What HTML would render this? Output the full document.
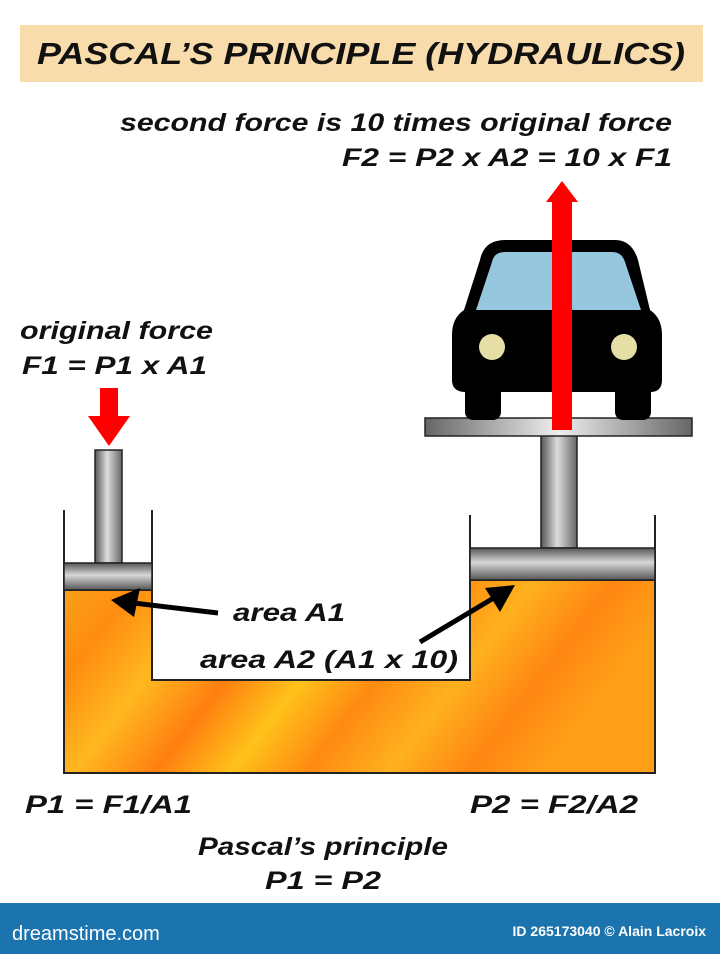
<!DOCTYPE html>
<html><head><meta charset="utf-8"><style>
html,body{margin:0;padding:0;background:#fff;}
svg{display:block}
text{font-family:"Liberation Sans Narrow","Liberation Sans",sans-serif;font-weight:bold;font-style:italic;fill:#111}
</style></head><body>
<svg width="720" height="954" viewBox="0 0 720 954" xmlns="http://www.w3.org/2000/svg">
<defs>
<linearGradient id="oil" x1="0" y1="0" x2="1" y2="0.25">
<stop offset="0" stop-color="#f7a21a"/><stop offset="0.12" stop-color="#ff8c10"/>
<stop offset="0.25" stop-color="#ffb820"/><stop offset="0.38" stop-color="#ff7f10"/>
<stop offset="0.5" stop-color="#ffc21a"/><stop offset="0.62" stop-color="#ff8a12"/>
<stop offset="0.75" stop-color="#ffb11e"/><stop offset="0.88" stop-color="#ff8612"/>
<stop offset="1" stop-color="#ffa018"/></linearGradient>
<linearGradient id="metV" x1="0" y1="0" x2="1" y2="0">
<stop offset="0" stop-color="#555"/><stop offset="0.45" stop-color="#ddd"/><stop offset="1" stop-color="#666"/></linearGradient>
<linearGradient id="metH" x1="0" y1="0" x2="0" y2="1">
<stop offset="0" stop-color="#555"/><stop offset="0.45" stop-color="#d8d8d8"/><stop offset="1" stop-color="#555"/></linearGradient>
<linearGradient id="plat" x1="0" y1="0" x2="1" y2="0">
<stop offset="0" stop-color="#666"/><stop offset="0.5" stop-color="#eee"/><stop offset="1" stop-color="#666"/></linearGradient>
</defs>
<rect x="20" y="25" width="683" height="57" fill="#f9dcab"/>
<text x="361" y="64" font-size="31" text-anchor="middle" textLength="648" lengthAdjust="spacingAndGlyphs">PASCAL’S PRINCIPLE (HYDRAULICS)</text>
<text x="672" y="131" font-size="25" text-anchor="end" textLength="552" lengthAdjust="spacingAndGlyphs">second force is 10 times original force</text>
<text x="672" y="166" font-size="25" text-anchor="end" textLength="330" lengthAdjust="spacingAndGlyphs">F2 = P2 x A2 = 10 x F1</text>
<text x="20" y="339" font-size="25" textLength="193" lengthAdjust="spacingAndGlyphs">original force</text>
<text x="22" y="374" font-size="25" textLength="185" lengthAdjust="spacingAndGlyphs">F1 = P1 x A1</text>
<!-- fluid -->
<path d="M64 590 H152 V680 H470 V580 H655 V773 H64 Z" fill="url(#oil)" stroke="#222" stroke-width="2"/>
<!-- walls -->
<path d="M64 510 V773 M152 510 V680 M470 515 V680 M655 515 V773" stroke="#222" stroke-width="2" fill="none"/>
<!-- left piston -->
<rect x="95" y="450" width="27" height="113" fill="url(#metV)" stroke="#222" stroke-width="1.5"/>
<rect x="64" y="563" width="88" height="27" fill="url(#metH)" stroke="#222" stroke-width="1.5"/>
<!-- right piston -->
<rect x="541" y="432" width="36" height="116" fill="url(#metV)" stroke="#222" stroke-width="1.5"/>
<rect x="470" y="548" width="185" height="32" fill="url(#metH)" stroke="#222" stroke-width="1.5"/>
<rect x="425" y="418" width="267" height="18" fill="url(#plat)" stroke="#222" stroke-width="1.5"/>
<!-- car -->
<rect x="465" y="380" width="36" height="40" rx="8" fill="#000"/>
<rect x="615" y="380" width="36" height="40" rx="8" fill="#000"/>
<path d="M480 260 Q484 240 505 240 H615 Q632 240 638 260 L650 310 Q662 318 662 335 V380 Q662 392 650 392 H466 Q452 392 452 380 V335 Q452 318 464 310 Z" fill="#000"/>
<path d="M492 262 Q494 252 505 252 H612 Q622 252 625 262 L641 310 H476 Z" fill="#97c6df"/>
<circle cx="492" cy="347" r="13" fill="#e6dfa5"/>
<circle cx="624" cy="347" r="13" fill="#e6dfa5"/>
<!-- red arrows -->
<rect x="552" y="200" width="20" height="230" fill="#f00"/>
<polygon points="546,202 562,181 578,202" fill="#f00"/>
<rect x="100" y="388" width="18" height="30" fill="#f00"/>
<polygon points="88,416 130,416 109,446" fill="#f00"/>
<!-- black arrows -->
<line x1="218" y1="613" x2="125" y2="602" stroke="#000" stroke-width="5"/>
<polygon points="111,600 140,588 134,617" fill="#000"/>
<line x1="420" y1="642" x2="497" y2="596" stroke="#000" stroke-width="5"/>
<polygon points="515,585 485,588 500,612" fill="#000"/>
<text x="233" y="621" font-size="25" textLength="112" lengthAdjust="spacingAndGlyphs">area A1</text>
<text x="200" y="668" font-size="25" textLength="258" lengthAdjust="spacingAndGlyphs">area A2 (A1 x 10)</text>
<text x="25" y="813" font-size="25" textLength="167" lengthAdjust="spacingAndGlyphs">P1 = F1/A1</text>
<text x="470" y="813" font-size="25" textLength="168" lengthAdjust="spacingAndGlyphs">P2 = F2/A2</text>
<text x="323" y="855" font-size="25" text-anchor="middle" textLength="250" lengthAdjust="spacingAndGlyphs">Pascal’s principle</text>
<text x="323" y="889" font-size="25" text-anchor="middle" textLength="116" lengthAdjust="spacingAndGlyphs">P1 = P2</text>
<rect x="0" y="903" width="720" height="51" fill="#1b74ad"/>
<text x="12" y="940" font-size="20" style="font-style:normal;font-weight:normal;fill:#fff;font-family:'Liberation Sans',sans-serif">dreamstime.com</text>
<text x="706" y="936" font-size="14" text-anchor="end" style="font-style:normal;fill:#fff;font-family:'Liberation Sans',sans-serif">ID 265173040 © Alain Lacroix</text>
</svg>
</body></html>
